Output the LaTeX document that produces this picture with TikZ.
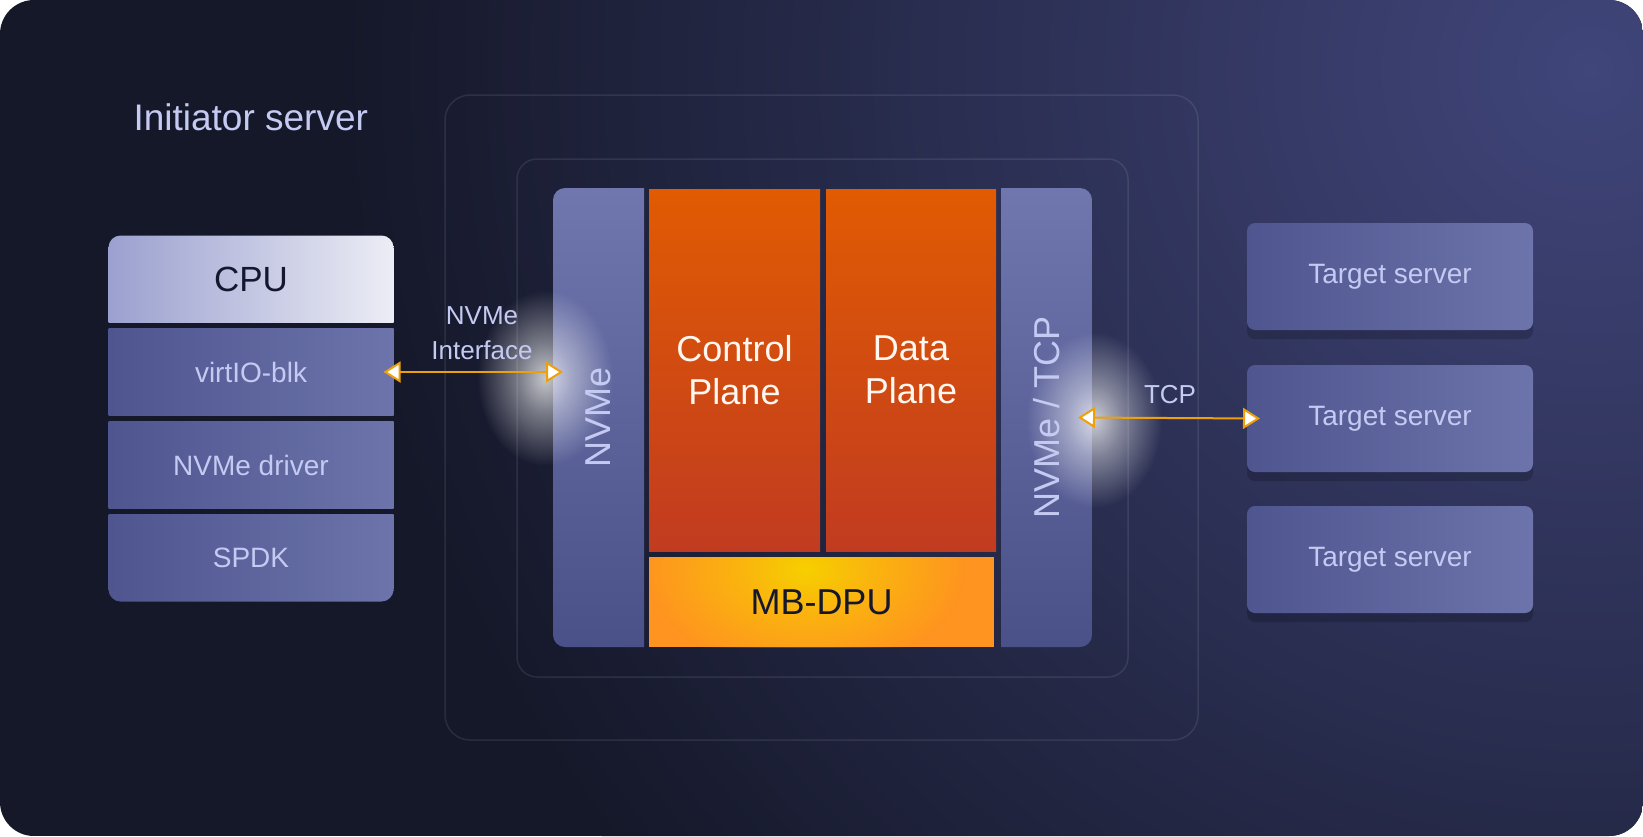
\documentclass[tikz,border=0pt]{standalone}
\usepackage{fontspec}
\setmainfont{Liberation Sans}
\usepackage{tikz}
\usetikzlibrary{arrows.meta,positioning,backgrounds,shadows,fadings}
\definecolor{bgd}{HTML}{151829}
\definecolor{bgl}{HTML}{40457A}
\definecolor{ink}{HTML}{C5CAF2}
\definecolor{navy}{HTML}{14172E}
\definecolor{slateL}{HTML}{4F558F}
\definecolor{slateR}{HTML}{6C74AB}
\definecolor{colT}{HTML}{6F77AE}
\definecolor{colB}{HTML}{4A5088}
\definecolor{cpuL}{HTML}{9BA0CF}
\definecolor{cpuR}{HTML}{ECEDF5}
\definecolor{planeT}{HTML}{E15B02}
\definecolor{planeB}{HTML}{C13B21}
\definecolor{dpuO}{HTML}{FF9420}
\definecolor{dpuY}{HTML}{F7D000}
\definecolor{wire}{HTML}{EEA00A}
\pgfdeclareradialshading{glowshade}{\pgfpointorigin}{color(0bp)=(pgftransparent!0);color(8bp)=(pgftransparent!45);color(20bp)=(pgftransparent!100);color(50bp)=(pgftransparent!100)}
\pgfdeclarefading{glowfade}{\pgfuseshading{glowshade}}
\newcommand{\fsz}[2]{\fontsize{#1}{#2}\selectfont}
% box rounded on one side only: node, shift of nw, shift of se, paint
\newcommand{\halfbox}[4]{%
  \begin{scope}
    \clip (#1.north west) rectangle (#1.south east);
    \shade[rounded corners=12pt,#4] ([shift={#2}]#1.north west) rectangle ([shift={#3}]#1.south east);
  \end{scope}}
\tikzset{
  frame/.style={draw=white,draw opacity=0.09,line width=1.5pt},
  title/.style={text=ink,font=\fsz{37}{44}},
  lbl/.style={text=ink,font=\fsz{26}{35},align=center},
  box/.style={minimum width=285pt,minimum height=87pt,inner sep=0pt,outer sep=0pt,text=ink,font=\fsz{28}{34}},
  layer/.style={box,left color=slateL,right color=slateR},
  plane/.style={minimum width=171pt,minimum height=362pt,inner sep=0pt,outer sep=0pt,
    top color=planeT,bottom color=planeB,text=white!94!orange,font=\fsz{36}{43},align=center},
  colbox/.style={minimum width=91pt,minimum height=459pt,inner sep=0pt,outer sep=0pt},
  coltext/.style={rotate=90,text=ink,font=\fsz{36}{40}},
  dpu/.style={minimum width=345pt,minimum height=90pt,inner sep=0pt,outer sep=0pt,fill=dpuO,
    text=navy,font=\fsz{36}{40},
    path picture={\fill[dpuY,path fading=glowfade] ([xshift=-16pt,yshift=-12pt]path picture bounding box.north) ellipse (200 and 130);}},
  tgt/.style={minimum width=286pt,minimum height=107pt,inner sep=0pt,outer sep=0pt,rounded corners=8pt,
    left color=slateL,right color=slateR,text=ink,font=\fsz{28}{34},
    drop shadow={shadow xshift=0pt,shadow yshift=-9pt,opacity=0.18,fill=black}},
  glow/.style={white,path fading=glowfade,fill opacity=0.75},
  link/.style={draw=wire,line width=2pt,
    arrows={Triangle[fill=white,length=17pt,width=21pt]-Triangle[fill=white,length=17pt,width=21pt]}}
}
\begin{document}
\begin{tikzpicture}[x=1pt,y=-1pt]
\useasboundingbox (0,0) rectangle (1643,836);
\begin{scope}[on background layer]
  \fill[white] (0,0) rectangle (1643,836);
  \begin{scope}
    \clip[rounded corners=34pt] (0,0) rectangle (1643,836);
    \fill[bgd] (0,0) rectangle (1643,836);
    \shade[inner color=bgl,outer color=bgd] (1590,70) circle (1250);
  \end{scope}
  \draw[frame,rounded corners=25pt] (445,95) rectangle (1198,740);
  \draw[frame,rounded corners=20pt] (517,159) rectangle (1128,677);
\end{scope}

\node[title,anchor=base west] (init) at (130,130) {Initiator server};

% initiator stack
\node[box,text=navy,font=\fsz{35}{40}] (cpu) at (251,279) {CPU};
\node[layer,below=6pt of cpu] (virtio) {virtIO-blk};
\node[layer,below=6pt of virtio] (drv) {NVMe driver};
\node[box,below=6pt of drv] (spdk) {SPDK};

% DPU
\node[colbox] (nvme) at (598.5,417.5) {};
\node[plane] (ctrl) at (734.5,370) {Control\\Plane};
\node[plane,minimum width=170pt,right=6pt of ctrl] (data) {Data\\Plane};
\node[dpu] (mbdpu) at (821.5,602) {MB-DPU};
\node[colbox] (tcpcol) at (1046.5,417.5) {};

\begin{scope}[on background layer]
  \halfbox{cpu}{(0,0)}{(0,14)}{left color=cpuL,right color=cpuR}
  \halfbox{spdk}{(0,-14)}{(0,0)}{left color=slateL,right color=slateR}
  \halfbox{nvme}{(0,0)}{(14,0)}{top color=colT,bottom color=colB}
  \halfbox{tcpcol}{(-14,0)}{(0,0)}{top color=colT,bottom color=colB}
\end{scope}

% targets
\node[tgt] (tgt1) at (1390,276.5) {Target server};
\node[tgt,below=35pt of tgt1] (tgt2) {Target server};
\node[tgt,below=34pt of tgt2] (tgt3) {Target server};

\fill[glow] (545,378) ellipse (85 and 110);
\fill[glow] (1094,420) ellipse (85 and 110);

\node[coltext] (nvmetxt) at (nvme) {NVMe};
\node[coltext] (tcptxt) at (tcpcol) {NVMe / TCP};

\node[lbl] (nvmeif) at (482,333) {NVMe\\Interface};
\draw[link] ([xshift=-10pt]virtio.east) -- ([xshift=10pt]virtio.east -| nvme.west);
\node[lbl] (tcplbl) at (1170,395) {TCP};
\draw[link] ([xshift=-14pt]tcpcol.east) -- ([xshift=13pt]tgt2.west);
\end{tikzpicture}
\end{document}
